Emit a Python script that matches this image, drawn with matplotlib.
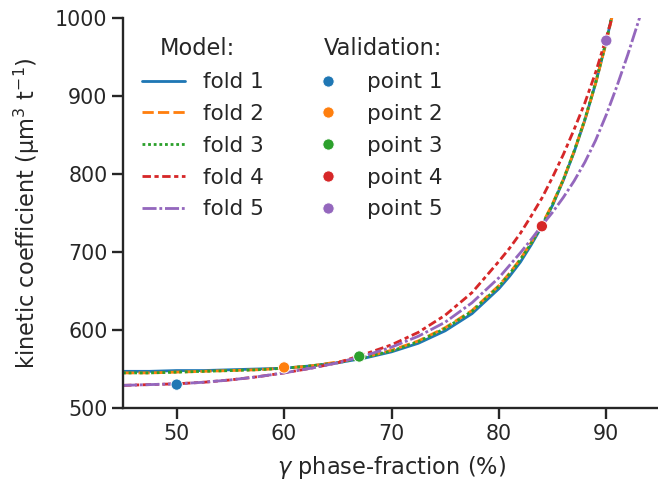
import matplotlib
matplotlib.use("Agg")
import matplotlib.pyplot as plt
import matplotlib.offsetbox as mob
from matplotlib.lines import Line2D
import seaborn as sns

# ---------------- data ----------------
x_grid = [45, 47.5, 50, 52.5, 55, 57.5, 60, 62.5, 65, 67.5, 70, 72.5, 75, 77.5,
          80, 81, 82, 83, 84, 85, 86, 87, 88, 89, 90, 91, 92, 93, 94, 95]

fold1 = [547, 547, 548, 548, 549, 550, 551, 554, 558, 564, 572, 583, 599, 621,
         653, 669, 687, 709, 733, 760, 792, 828, 869, 916, 970, 1032, 1103, 1185, 1278, 1385]
fold2 = [545, 545, 546, 547, 548, 549, 551, 554, 559, 565, 574, 586, 603, 625,
         657, 673, 691, 712, 735, 762, 793, 829, 869, 916, 969, 1030, 1100, 1180, 1270, 1375]
fold3 = [545, 545, 546, 547, 548, 549, 551, 554, 558, 565, 573, 585, 602, 624,
         656, 672, 690, 711, 734, 761, 793, 829, 870, 917, 971, 1033, 1104, 1186, 1280, 1388]
fold4 = [529, 530, 531, 533, 536, 540, 545, 551, 558, 569, 581, 597, 619, 648,
         688, 705, 724, 746, 769, 796, 825, 857, 891, 930, 975, 1022, 1072, 1128, 1190, 1258]
fold5 = [529, 530, 531, 533, 536, 540, 545, 551, 558, 567, 578, 592, 610, 635,
         667, 683, 699, 716, 734, 751, 770, 791, 815, 843, 876, 913, 953, 996, 1041, 1088]

fold_labels = ["fold 1", "fold 2", "fold 3", "fold 4", "fold 5"]
folds = [fold1, fold2, fold3, fold4, fold5]

point_x = [50, 60, 67, 84, 90]
point_y = [530, 552, 566, 733, 971]
point_labels = ["point 1", "point 2", "point 3", "point 4", "point 5"]

colors = ["#1f77b4", "#ff7f0e", "#2ca02c", "#d62728", "#9467bd"]
dashes = [(), (4, 1.5), (1, 1), (3, 1.25, 1.5, 1.25), (5, 1, 1, 1)]

# ---------------- style ----------------
sns.set_theme(context="talk", style="ticks")
plt.rcParams["font.family"] = ["DejaVu Sans"]

dpi = 90
fig = plt.figure(figsize=(658 / dpi, 485 / dpi), dpi=dpi)
ax = fig.add_axes([123 / 658, 1 - 408 / 485, (660 - 123) / 658, 390 / 485])

line_handles = []
for ys, lab, c, d in zip(folds, fold_labels, colors, dashes):
    if d:
        ln, = ax.plot(x_grid, ys, color=c, label=lab, linestyle="--", lw=2.25)
        ln.set_dashes(d)
    else:
        ln, = ax.plot(x_grid, ys, color=c, label=lab, linestyle="-", lw=2.25)
    line_handles.append(ln)

ax.scatter(point_x, point_y, c=colors, s=81, edgecolor="w", linewidth=0.72, zorder=5)

ax.set_xlim(45, 95)
ax.set_ylim(500, 1000)
ax.set_xticks([50, 60, 70, 80, 90])
ax.set_yticks([500, 600, 700, 800, 900, 1000])
ax.set_xlabel(r"$\gamma$ phase-fraction (%)", labelpad=8.5)
ax.set_ylabel("kinetic coefficient (μm$^3$ t$^{-1}$)", labelpad=10)
sns.despine(ax=ax)

# ---------------- legend ----------------
hdr1 = Line2D([], [], visible=False)
hdr2 = Line2D([], [], visible=False)
pt_handles = [Line2D([], [], linestyle="", marker="o", markersize=9,
                     markerfacecolor=c, markeredgecolor="w", markeredgewidth=0.72)
              for c in colors]
handles = [hdr1] + line_handles + [hdr2] + pt_handles
labels = ["Model:"] + fold_labels + ["Validation:"] + point_labels
leg = ax.legend(handles, labels, ncol=2, frameon=False, loc="upper left",
                fontsize=17.2, labelspacing=0.55)

title_size = 18
for hp in leg.findobj(mob.HPacker):
    ch = hp.get_children()
    if len(ch) == 2 and isinstance(ch[0], mob.DrawingArea) and isinstance(ch[1], mob.TextArea):
        arts = ch[0].get_children()
        if arts and not all(a.get_visible() for a in arts):
            ch[0].set_width(0)
            for t in ch[1].get_children():
                t.set_size(title_size)

fig.savefig("out.png", dpi=dpi)
